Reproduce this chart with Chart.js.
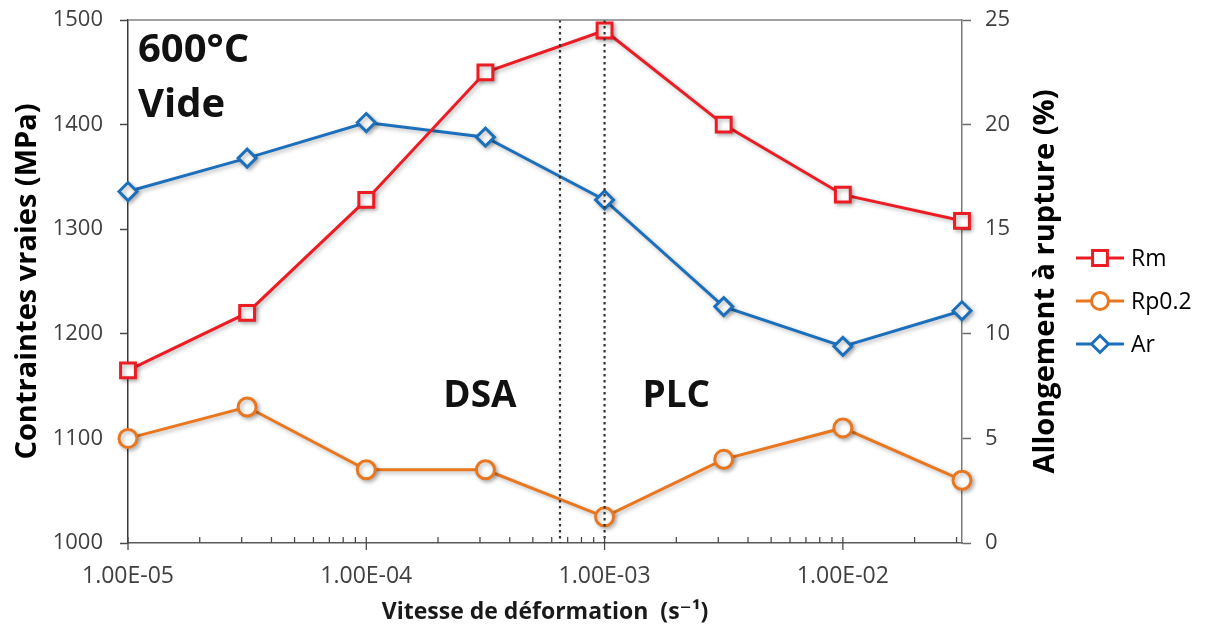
<!DOCTYPE html>
<html>
<head>
<meta charset="utf-8">
<script src="https://cdn.jsdelivr.net/npm/chart.js@4.4.1/dist/chart.umd.min.js"></script>
<style>
html, body { margin: 0; padding: 0; background: #fff; }
#wrap { width: 1207px; height: 632px; position: relative; }
</style>
</head>
<body>
<div id="wrap"><canvas id="graph"></canvas></div>
<script>
// valeurs
const strainRates = [1e-5, 3.162e-5, 1e-4, 3.162e-4, 1e-3, 3.162e-3, 1e-2, 3.162e-2];
const rmValues = [1165, 1220, 1328, 1450, 1490, 1400, 1333, 1308];
const rp02Values = [1100, 1130, 1070, 1070, 1025, 1080, 1110, 1060];
const arValues = [16.8, 18.4, 20.1, 19.4, 16.4, 11.3, 9.4, 11.1];
const regimeLimits = [6.5e-4, 1e-3];
const stressTicks = [1000, 1100, 1200, 1300, 1400, 1500];
const elongTicks = [0, 5, 10, 15, 20, 25];
const decades = [-5, -4, -3, -2];
const rateMax = 3.1623e-2;
const regimeLabels = [
    { text: 'DSA', x: 3.0e-4, y: 1140 },
    { text: 'PLC', x: 2.0e-3, y: 1140 }
];

const FONT = "'Open Sans', 'DejaVu Sans', sans-serif";
const RED = '#ec1c24';
const ORANGE = '#e8771f';
const BLUE = '#1c6fbb';

let rateTicks = [];
decades.forEach(d => {
    for (let m = 1; m <= 9; m++) {
        let v = m * Math.pow(10, d);
        if (v <= rateMax) rateTicks.push(v);
    }
});

function isDecade(v) {
    let l = Math.log10(v);
    return Math.abs(l - Math.round(l)) < 1e-9;
}

function formatSci(v) {
    let parts = v.toExponential(2).split('e');
    let exp = parseInt(parts[1]);
    return parts[0] + 'E' + (exp < 0 ? '-' : '+') + String(Math.abs(exp)).padStart(2, '0');
}

function points(values) {
    return strainRates.map((x, i) => ({ x: x, y: values[i] }));
}

function noPadding(s) {
    s.paddingTop = 0;
    s.paddingBottom = 0;
    s.paddingLeft = 0;
    s.paddingRight = 0;
}

function marker(ctx, style, x, y, r) {
    ctx.beginPath();
    if (style === 'rect') {
        let s = r * Math.SQRT1_2;
        ctx.rect(x - s, y - s, 2 * s, 2 * s);
    } else if (style === 'circle') {
        ctx.arc(x, y, r, 0, Math.PI * 2);
    } else {
        ctx.moveTo(x, y - r); ctx.lineTo(x + r, y); ctx.lineTo(x, y + r); ctx.lineTo(x - r, y); ctx.closePath();
    }
    ctx.fill();
    ctx.stroke();
}

const overlay = {
    id: 'overlay',
    beforeDatasetsDraw(chart) {
        let ctx = chart.ctx;
        ctx.save();
        ctx.shadowColor = 'rgba(0,0,0,0.28)';
        ctx.shadowBlur = 4;
        ctx.shadowOffsetX = 2;
        ctx.shadowOffsetY = 2;
    },
    afterDatasetsDraw(chart) {
        let ctx = chart.ctx;
        ctx.restore();
        let area = chart.chartArea;
        let xs = chart.scales.x, ys = chart.scales.y;

        // limites DSA / PLC
        ctx.save();
        ctx.strokeStyle = '#333';
        ctx.lineWidth = 2.2;
        ctx.setLineDash([2.4, 3.6]);
        regimeLimits.forEach(v => {
            let px = xs.getPixelForValue(v);
            ctx.beginPath();
            ctx.moveTo(px, area.top);
            ctx.lineTo(px, area.bottom);
            ctx.stroke();
        });
        ctx.restore();

        ctx.save();
        ctx.fillStyle = '#111';
        ctx.font = 'bold 37px ' + FONT;
        ctx.textAlign = 'center';
        ctx.textBaseline = 'middle';
        regimeLabels.forEach(l => {
            ctx.fillText(l.text, xs.getPixelForValue(l.x), ys.getPixelForValue(l.y));
        });
        ctx.font = 'bold 40px ' + FONT;
        ctx.textAlign = 'left';
        ctx.textBaseline = 'alphabetic';
        ctx.fillText('600°C', area.left + 10, area.top + 42);
        ctx.fillText('Vide', area.left + 10, area.top + 97);
        ctx.restore();
    },
    afterDraw(chart) {
        let ctx = chart.ctx;
        let area = chart.chartArea;
        let xs = chart.scales.x;
        ctx.save();
        // cadre du haut
        ctx.strokeStyle = '#808080';
        ctx.lineWidth = 1.5;
        ctx.beginPath();
        ctx.moveTo(area.left, area.top);
        ctx.lineTo(area.right, area.top);
        ctx.stroke();

        // graduations log
        ctx.strokeStyle = '#4a4a4a';
        ctx.lineWidth = 1.3;
        xs.ticks.forEach(t => {
            let px = xs.getPixelForValue(t.value);
            ctx.beginPath();
            if (isDecade(t.value)) {
                ctx.moveTo(px, area.bottom - 6);
                ctx.lineTo(px, area.bottom + 7);
            } else {
                ctx.moveTo(px, area.bottom - 6);
                ctx.lineTo(px, area.bottom);
            }
            ctx.stroke();
        });

        // titre axe droit
        ctx.fillStyle = '#000';
        ctx.font = 'bold 29px ' + FONT;
        ctx.textAlign = 'center';
        ctx.textBaseline = 'middle';
        ctx.translate(area.right + 84, (area.top + area.bottom) / 2);
        ctx.rotate(-Math.PI / 2);
        ctx.fillText('Allongement à rupture (%)', 0, 0);
        ctx.restore();

        // légende
        ctx.save();
        let lx = area.right + 114;
        let ly = 258;
        chart.data.datasets.forEach((ds, i) => {
            let y = ly + i * 43;
            ctx.strokeStyle = ds.borderColor;
            ctx.fillStyle = '#fff';
            ctx.lineWidth = 3;
            ctx.beginPath();
            ctx.moveTo(lx, y);
            ctx.lineTo(lx + 48, y);
            ctx.stroke();
            let r = ds.pointStyle === 'rect' ? 10.5 : 8.5;
            marker(ctx, ds.pointStyle, lx + 24, y, r);
            ctx.fillStyle = '#000';
            ctx.font = '23px ' + FONT;
            ctx.textAlign = 'left';
            ctx.textBaseline = 'middle';
            ctx.fillText(ds.label, lx + 55, y + 1);
        });
        ctx.restore();
    }
};

new Chart(document.getElementById('graph'), {
    type: 'line',
    data: {
        datasets: [
            {
                label: 'Rm',
                data: points(rmValues),
                yAxisID: 'y',
                borderColor: RED,
                borderWidth: 3,
                pointStyle: 'rect',
                pointRadius: 10.5,
                pointBorderWidth: 3,
                pointBackgroundColor: '#fff',
                pointBorderColor: RED,
                clip: false
            },
            {
                label: 'Rp0.2',
                data: points(rp02Values),
                yAxisID: 'y',
                borderColor: ORANGE,
                borderWidth: 3,
                pointStyle: 'circle',
                pointRadius: 9,
                pointBorderWidth: 3,
                pointBackgroundColor: '#fff',
                pointBorderColor: ORANGE,
                clip: false
            },
            {
                label: 'Ar',
                data: points(arValues),
                yAxisID: 'y2',
                borderColor: BLUE,
                borderWidth: 3,
                pointStyle: 'rectRot',
                pointRadius: 9,
                pointBorderWidth: 3,
                pointBackgroundColor: '#fff',
                pointBorderColor: BLUE,
                clip: false
            }
        ]
    },
    options: {
        responsive: true,
        maintainAspectRatio: false,
        animation: false,
        layout: { padding: { top: 20, right: 137, bottom: 0, left: 0 } },
        plugins: {
            legend: { display: false },
            tooltip: { enabled: false }
        },
        scales: {
            x: {
                type: 'logarithmic',
                position: 'bottom',
                min: 1e-5,
                max: rateMax,
                afterBuildTicks: s => { s.ticks = rateTicks.map(v => ({ value: v, major: isDecade(v) })); },
                afterFit: s => { s.height = 89; noPadding(s); },
                grid: { display: false, drawTicks: false },
                border: { color: '#595959', width: 1.5 },
                ticks: {
                    autoSkip: false,
                    maxRotation: 0,
                    minRotation: 0,
                    padding: 20,
                    color: '#404040',
                    font: { family: FONT, size: 23 },
                    callback: v => isDecade(v) ? formatSci(v) : ''
                },
                title: {
                    display: true,
                    text: 'Vitesse de déformation  (s⁻¹)',
                    color: '#1a1a1a',
                    font: { family: FONT, size: 23, weight: 'bold' },
                    padding: { top: 0, bottom: 6 }
                }
            },
            y: {
                type: 'linear',
                position: 'left',
                min: 1000,
                max: 1500,
                afterBuildTicks: s => { s.ticks = stressTicks.map(v => ({ value: v })); },
                afterFit: s => { s.width = 128; noPadding(s); },
                grid: { drawOnChartArea: false, drawTicks: true, tickLength: 8, tickColor: '#4a4a4a', tickWidth: 1.5 },
                border: { color: '#3a3a3a', width: 1.5 },
                ticks: { padding: 17, color: '#404040', font: { family: FONT, size: 22 }, callback: v => String(v) },
                title: {
                    display: true,
                    text: 'Contraintes vraies (MPa)',
                    color: '#000',
                    font: { family: FONT, size: 29, weight: 'bold' },
                    padding: { top: 10, bottom: 0 }
                }
            },
            y2: {
                type: 'linear',
                position: 'right',
                min: 0,
                max: 25,
                afterBuildTicks: s => { s.ticks = elongTicks.map(v => ({ value: v })); },
                afterFit: s => { s.width = 108; noPadding(s); },
                grid: { drawOnChartArea: false, drawTicks: true, tickLength: 9, tickColor: '#6a6a6a', tickWidth: 1.5 },
                border: { color: '#7a7a7a', width: 1.5 },
                ticks: { padding: 14, color: '#404040', font: { family: FONT, size: 22 }, callback: v => String(v) }
            }
        }
    },
    plugins: [overlay]
});
</script>
</body>
</html>
